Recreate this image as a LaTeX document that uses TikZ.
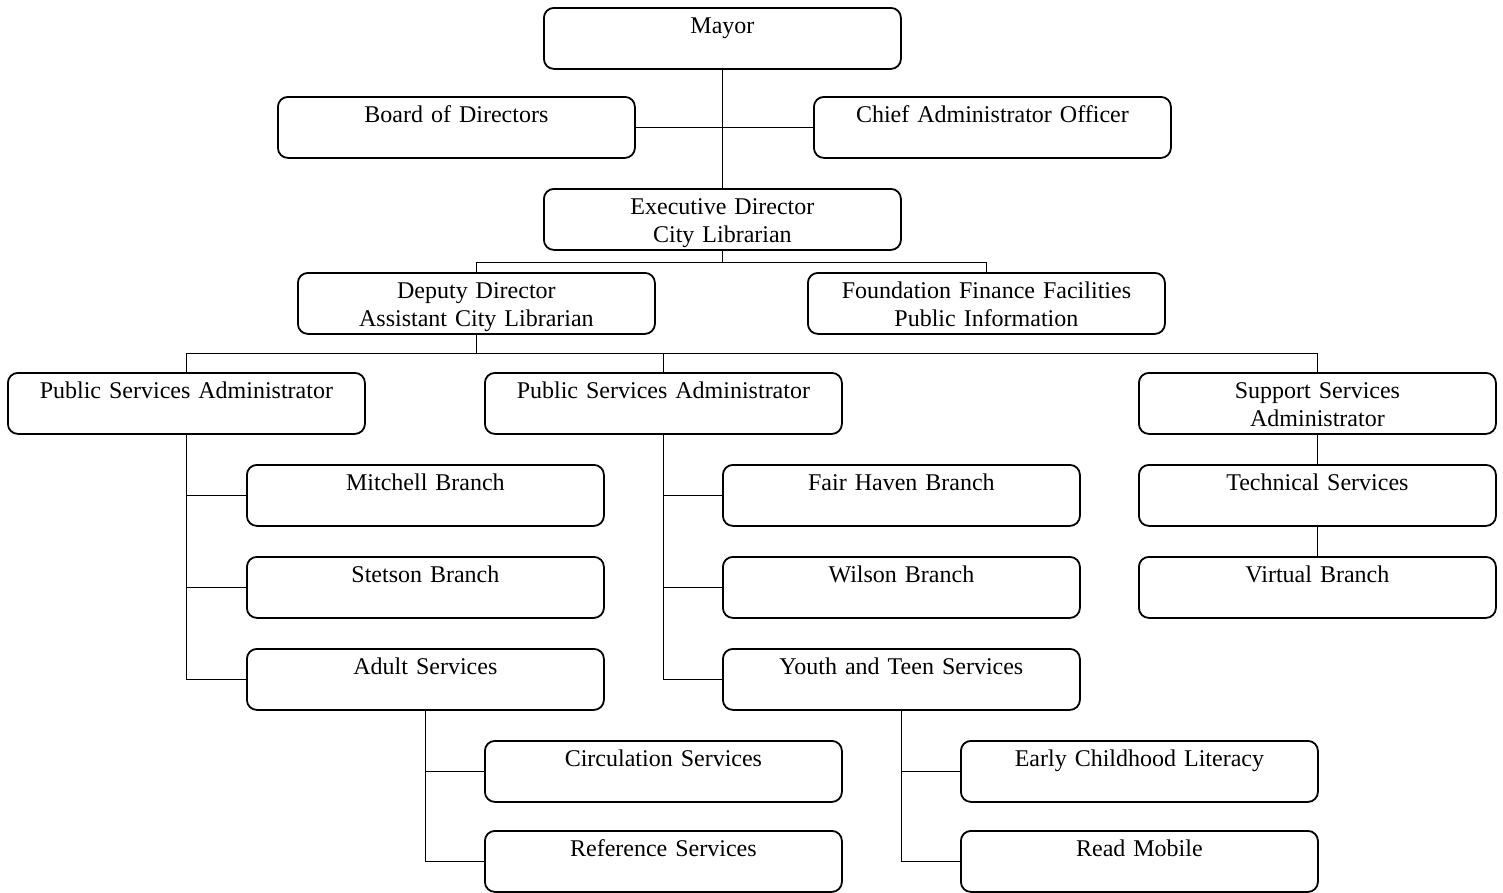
\documentclass[tikz,border=0pt]{standalone}
\usepackage{fontspec}
\setmainfont{Liberation Serif}
\begin{document}
\begin{tikzpicture}[x=1pt,y=-1pt,
  unit/.style={draw, line width=1.8pt, rounded corners=10pt, anchor=north west,
    inner sep=0pt, minimum width=357pt, minimum height=61pt, text width=357pt,
    align=center, text height=25.5pt, text depth=35.5pt,
    font=\fontsize{24}{28}\selectfont},
  link/.style={line width=1.2pt}]
\useasboundingbox (0,0) rectangle (1503,892);

% top of the organisation
\node[unit] (mayor)  at (543,7)   {Mayor};
\node[unit] (board)  at (277,96)  {Board of Directors};
\node[unit] (chief)  at (813,96)  {Chief Administrator Officer};
\node[unit] (exec)   at (543,188) {Executive Director\\City Librarian};
\node[unit] (deputy) at (297,272) {Deputy Director\\Assistant City Librarian};
\node[unit] (found)  at (807,272) {Foundation Finance Facilities\\Public Information};

% administrators
\node[unit] (psa1) at (7,372)    {Public Services Administrator};
\node[unit] (psa2) at (484,372)  {Public Services Administrator};
\node[unit] (ssa)  at (1138,372) {Support Services\\Administrator};

% branches and services
\node[unit] (mitchell) at (246,464)  {Mitchell Branch};
\node[unit] (stetson)  at (246,556)  {Stetson Branch};
\node[unit] (adult)    at (246,648)  {Adult Services};
\node[unit] (fair)     at (722,464)  {Fair Haven Branch};
\node[unit] (wilson)   at (722,556)  {Wilson Branch};
\node[unit] (youth)    at (722,648)  {Youth and Teen Services};
\node[unit] (tech)     at (1138,464) {Technical Services};
\node[unit] (virtual)  at (1138,556) {Virtual Branch};
\node[unit] (circ)     at (484,740)  {Circulation Services};
\node[unit] (ref)      at (484,830)  {Reference Services};
\node[unit] (early)    at (960,740)  {Early Childhood Literacy};
\node[unit] (read)     at (960,830)  {Read Mobile};

% reporting lines
\draw[link] (mayor.south) -- (exec.north);
\draw[link] (board.east) -- (chief.west);
\draw[link] (exec.south) -- ++(0,12) -| (deputy.north);
\draw[link] (exec.south) -- ++(0,12) -| (found.north);
\draw[link] (deputy.south) -- ++(0,19) -| (psa1.north);
\draw[link] (deputy.south) -- ++(0,19) -| (psa2.north);
\draw[link] (deputy.south) -- ++(0,19) -| (ssa.north);
\draw[link] (psa1.south) |- (mitchell.west);
\draw[link] (psa1.south) |- (stetson.west);
\draw[link] (psa1.south) |- (adult.west);
\draw[link] (psa2.south) |- (fair.west);
\draw[link] (psa2.south) |- (wilson.west);
\draw[link] (psa2.south) |- (youth.west);
\draw[link] (ssa.south) -- (tech.north);
\draw[link] (tech.south) -- (virtual.north);
\draw[link] (adult.south) |- (circ.west);
\draw[link] (adult.south) |- (ref.west);
\draw[link] (youth.south) |- (early.west);
\draw[link] (youth.south) |- (read.west);
\end{tikzpicture}
\end{document}
